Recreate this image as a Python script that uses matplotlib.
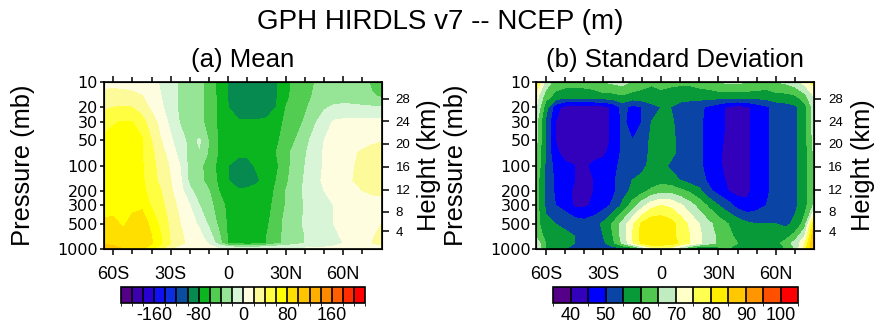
import numpy as np
import matplotlib
matplotlib.use('Agg')
import matplotlib.pyplot as plt
import matplotlib.cm as cm
from matplotlib.colors import ListedColormap, BoundaryNorm

plt.rcParams['font.family'] = ['Liberation Sans', 'DejaVu Sans']
plt.rcParams['axes.unicode_minus'] = False

# grid
lats = [-65, -60, -55, -50, -45, -40, -35, -30, -25, -20, -15, -10, -5, 0, 5,
        10, 15, 20, 25, 30, 35, 40, 45, 50, 55, 60, 65, 70, 75, 80]
plevs = [10, 15, 20, 30, 50, 70, 100, 150, 200, 300, 500, 700, 850, 1000]

# (a) mean difference (m), one row per pressure level
mean_gph = np.array([
    [16, 15, 14, 12, 10, 5, -2, -14, -22, -30, -36, -47, -66, -81, -88, -91, -91, -88, -82, -66, -55, -47, -40, -35, -31, -30, -32, -36, -42, -46],
    [24, 26, 26, 25, 21, 12, 0, -12, -24, -30, -36, -47, -65, -81, -89, -92, -92, -88, -82, -64, -54, -45, -38, -33, -30, -28, -30, -34, -39, -41],
    [36, 40, 41, 40, 31, 15, 3, -11, -24, -30, -36, -47, -64, -80, -88, -91, -91, -88, -80, -60, -50, -43, -32, -23, -17, -16, -16, -17, -18, -19],
    [52, 58, 61, 60, 47, 30, 12, -6, -22, -29, -35, -47, -64, -76, -78, -78, -78, -77, -69, -56, -47, -38, -23, -10, 2, 4, 5, 5, 5, 5],
    [64, 67, 69, 68, 62, 40, 20, 3, -12, -26, -18, -42, -62, -72, -74, -75, -74, -72, -64, -51, -40, -27, -12, 0, 6, 9, 11, 14, 17, 19],
    [66, 70, 72, 70, 60, 44, 27, 10, -8, -26, -21, -43, -62, -72, -76, -76, -74, -72, -60, -46, -33, -22, -10, 2, 8, 13, 18, 22, 25, 26],
    [68, 72, 72, 71, 62, 47, 31, 17, -1, -28, -36, -48, -66, -80, -86, -86, -77, -72, -64, -48, -30, -20, -9, 2, 8, 14, 19, 24, 27, 27],
    [68, 72, 72, 71, 63, 49, 34, 20, 3, -26, -35, -47, -64, -80, -88, -88, -83, -72, -60, -44, -30, -18, -6, 3, 10, 15, 20, 24, 26, 26],
    [70, 72, 72, 72, 65, 52, 40, 23, 7, -16, -30, -40, -60, -75, -78, -77, -74, -70, -57, -40, -27, -17, -8, 0, 6, 11, 16, 20, 23, 24],
    [72, 74, 75, 77, 78, 57, 45, 30, 13, 0, -20, -33, -50, -66, -70, -70, -70, -67, -54, -39, -28, -19, -13, -6, 0, 5, 8, 10, 12, 13],
    [84, 84, 78, 84, 86, 77, 52, 36, 20, 9, -4, -24, -44, -64, -70, -70, -70, -64, -48, -35, -25, -18, -12, -6, 0, 5, 9, 13, 17, 20],
    [90, 88, 84, 86, 85, 80, 60, 37, 23, 14, 6, -12, -36, -63, -70, -72, -70, -60, -46, -36, -28, -20, -14, -9, -3, 2, 8, 14, 19, 23],
    [95, 92, 90, 88, 86, 82, 62, 39, 24, 15, 8, -2, -30, -62, -70, -72, -70, -60, -45, -35, -28, -20, -14, -9, -4, 0, 8, 14, 20, 24],
    [125, 112, 100, 90, 82, 65, 45, 20, 10, 8, 6, 5, 4, 4, 4, 4, 4, 4, 4, 4, 4, 4, 4, 4, 4, 4, 5, 6, 8, 12],
])

# (b) standard deviation (m)
std_gph = np.array([
    [80, 68, 63, 62, 62, 62, 63, 65, 66, 67, 64, 62, 61, 62, 61, 61, 61, 62, 63, 65, 66, 66, 65, 64, 63, 65, 66, 68, 72, 78],
    [72, 62, 58, 57, 57, 57, 57, 58, 58, 59, 58, 58, 57, 58, 58, 57, 57, 57, 57, 57, 57, 57, 57, 57, 57, 58, 58, 59, 63, 70],
    [70, 57, 47, 43, 43, 43, 43, 43, 46, 52, 48, 50, 54, 55, 55, 53, 52, 51, 49, 47, 44, 43, 44, 47, 49, 52, 53, 54, 58, 68],
    [66, 54, 45, 42, 42, 42, 42, 43, 46, 51, 48, 50, 55, 58, 56, 53, 52, 51, 48, 47, 44, 42, 44, 47, 49, 52, 53, 54, 58, 68],
    [66, 54, 45, 42, 42, 42, 42, 43, 46, 51, 50, 52, 56, 58, 57, 53, 52, 51, 48, 46, 44, 42, 44, 47, 49, 52, 53, 54, 58, 67],
    [65, 54, 46, 43, 42, 42, 43, 44, 47, 51, 53, 53, 56, 58, 57, 53, 52, 51, 48, 46, 43, 42, 44, 47, 49, 52, 53, 54, 58, 66],
    [64, 54, 48, 46, 45, 44, 46, 47, 48, 52, 53, 54, 56, 57, 54, 53, 52, 51, 48, 46, 43, 42, 44, 47, 49, 52, 53, 54, 58, 66],
    [62, 54, 49, 47, 45, 45, 45, 47, 49, 53, 55, 56, 57, 58, 57, 55, 53, 52, 49, 47, 44, 42, 44, 47, 49, 52, 53, 54, 58, 66],
    [62, 54, 49, 47, 44, 43, 45, 47, 49, 53, 56, 58, 61, 63, 63, 61, 59, 56, 51, 48, 45, 43, 44, 47, 49, 52, 53, 54, 58, 65],
    [62, 54, 50, 48, 44, 44, 46, 48, 51, 56, 62, 68, 73, 75, 74, 71, 67, 63, 59, 55, 52, 48, 46, 48, 50, 52, 53, 54, 58, 66],
    [62, 56, 55, 54, 53, 52, 53, 56, 61, 67, 74, 81, 84, 84, 82, 78, 74, 70, 66, 63, 60, 58, 56, 55, 55, 55, 54, 56, 62, 85],
    [64, 58, 57, 56, 55, 54, 53, 55, 60, 67, 75, 82, 84, 84, 82, 78, 75, 71, 67, 64, 61, 59, 57, 56, 56, 56, 58, 62, 70, 90],
    [68, 60, 58, 57, 55, 53, 52, 54, 59, 66, 74, 81, 84, 84, 83, 79, 75, 71, 67, 64, 62, 60, 58, 57, 57, 58, 62, 67, 74, 92],
    [70, 60, 57, 55, 53, 52, 52, 52, 52, 53, 54, 62, 72, 72, 72, 65, 57, 52, 53, 58, 60, 60, 58, 57, 57, 57, 60, 65, 78, 90],
])

levels_a = np.arange(-220, 221, 20)
colors_a = ['#550088', '#3c00ac', '#2800d2', '#1010f2', '#0c2ee0', '#0a4c9e', '#078a50', '#0ab520',
            '#52cd52', '#96e496', '#d8f5d8', '#fffde0', '#fdfb99', '#fffe40', '#ffff00', '#ffdf00',
            '#ffc400', '#ffae00', '#ff8a00', '#ff5f00', '#ff2c00', '#ff0000']
ticks_a = [-160, -80, 0, 80, 160]

levels_b = np.arange(35, 106, 5)
colors_b = ['#550088', '#3300bb', '#0000ff', '#0a45a5', '#089a38', '#50c850', '#c0ecc0',
            '#ffffc8', '#ffff50', '#ffee00', '#ffc800', '#ff9600', '#ff5000', '#ff0000']
ticks_b = [40, 50, 60, 70, 80, 90, 100]

p_ticks = [1000, 500, 300, 200, 100, 50, 30, 20, 10]
# standard atmosphere pressure (mb) at each height label
height_km = [4, 8, 12, 16, 20, 24, 28]
height_p = [616.6, 356.5, 194.0, 102.9, 54.75, 29.30, 15.86]

lat_ticks = [-60, -30, 0, 30, 60]
lat_labels = ['60S', '30S', '0', '30N', '60N']
lat_minor = [-50, -40, -20, -10, 10, 20, 40, 50, 70]


def panel(ax, cax, data, levels, colors, ticks, subtitle):
    logp = np.log10(plevs)
    ax.contourf(lats, logp, data, levels=levels, colors=colors)
    ax.set_xlim(-65, 80)
    ax.set_ylim(3, 1)
    ax.set_xticks(lat_ticks)
    ax.set_xticklabels(lat_labels)
    ax.set_xticks(lat_minor, minor=True)
    ax.set_yticks(np.log10(p_ticks))
    ax.set_yticklabels([str(p) for p in p_ticks], fontfamily='DejaVu Sans', fontsize=11.5)
    ax.tick_params(axis='x', which='both', direction='out', top=True, bottom=True,
                   labelsize=13, pad=8, width=1.1)
    ax.tick_params(axis='x', which='major', length=4)
    ax.tick_params(axis='x', which='minor', length=3.5)
    ax.tick_params(axis='y', direction='out', length=3, pad=1, width=1.1)
    for s in ax.spines.values():
        s.set_linewidth(1.2)
    ax.text(0.5, 1.093, subtitle, transform=ax.transAxes, ha='center', va='baseline',
            fontsize=18.5)

    rax = ax.twinx()
    rax.set_ylim(3, 1)
    rax.set_yticks(np.log10(height_p))
    rax.set_yticklabels([str(h) for h in height_km])
    rax.tick_params(axis='y', direction='out', length=5, pad=5, labelsize=9.5, width=1.1)

    cmap = ListedColormap(colors)
    norm = BoundaryNorm(levels, len(colors))
    cb = plt.colorbar(cm.ScalarMappable(norm=norm, cmap=cmap), cax=cax,
                      orientation='horizontal', drawedges=True, ticks=ticks)
    cb.ax.tick_params(length=0, labelsize=13, pad=3)
    cb.outline.set_linewidth(1.2)
    cb.dividers.set_linewidth(1.2)


fig = plt.figure(figsize=(8.8, 3.25), dpi=100)
ax1 = fig.add_axes([0.1178, 0.2338, 0.3159, 0.5138])
ax2 = fig.add_axes([0.6095, 0.2338, 0.3159, 0.5138])
cax1 = fig.add_axes([0.1375, 0.0686, 0.2773, 0.0492])
cax2 = fig.add_axes([0.6288, 0.0686, 0.2784, 0.0492])

panel(ax1, cax1, mean_gph, levels_a, colors_a, ticks_a, '(a) Mean')
panel(ax2, cax2, std_gph, levels_b, colors_b, ticks_b, '(b) Standard Deviation')

fig.text(0.5, 0.911, 'GPH HIRDLS v7 -- NCEP (m)', ha='center', va='baseline', fontsize=20)
for xc in [23, 456]:
    fig.text(xc / 880, 0.4907, 'Pressure (mb)', rotation=90, ha='center', va='center', fontsize=18.4)
for xc in [429, 863]:
    fig.text(xc / 880, 0.4907, 'Height (km)', rotation=90, ha='center', va='center', fontsize=18.4)

fig.savefig('out.png', dpi=100)
